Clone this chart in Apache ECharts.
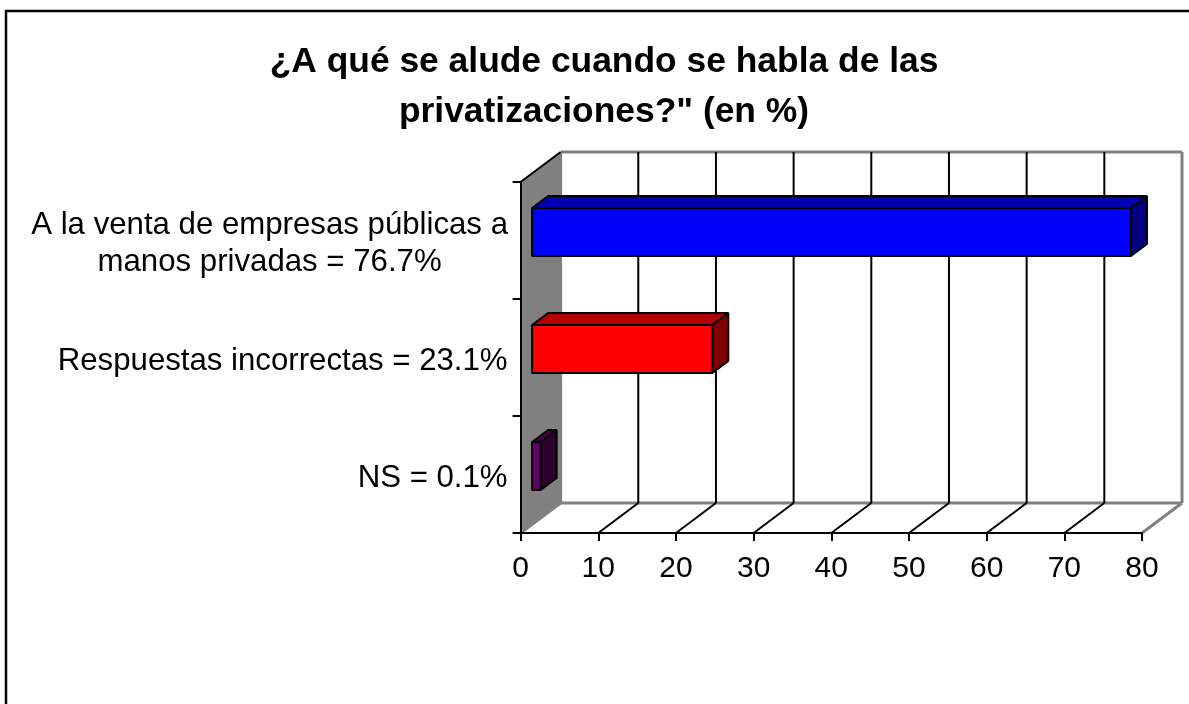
<!DOCTYPE html>
<html>
<head>
<meta charset="utf-8">
<script src="https://cdn.jsdelivr.net/npm/echarts@6/dist/echarts.min.js"></script>
<style>
html, body { margin: 0; padding: 0; background: #fff; }
#chart { width: 1189px; height: 704px; }
</style>
</head>
<body>
<div id="chart"></div>
<script>
var titleText = '¿A qué se alude cuando se habla de las\nprivatizaciones?" (en %)';
var categories = ['A la venta de empresas públicas a\nmanos privadas = 76.7%', 'Respuestas incorrectas = 23.1%', 'NS = 0.1%'];
// bar lengths as drawn in the picture, the labels round differently
var barValues = [77.1, 23.2, 1.1];
var barColors = ['#0000ff', '#ff0000', '#660066'];
var barTopColors = ['#0000b3', '#b30000', '#470047'];
var barSideColors = ['#000080', '#800000', '#2e002e'];
var xTicks = [0, 10, 20, 30, 40, 50, 60, 70, 80];

var depthX = 40, depthY = -30;       // shift of the back wall
var barDepthX = 16, barDepthY = -12; // depth of one bar
var barShiftX = 11.5, barShiftY = -8.5;  // bar sits inside the depth

var myChart = echarts.init(document.getElementById('chart'));

function poly(points, fill, stroke, lw) {
    return {
        type: 'polygon',
        shape: { points: points },
        style: { fill: fill, stroke: stroke, lineWidth: lw, lineJoin: 'bevel' }
    };
}
function line(x1, y1, x2, y2, color, lw) {
    return {
        type: 'line',
        shape: { x1: x1, y1: y1, x2: x2, y2: y2 },
        style: { stroke: color, lineWidth: lw }
    };
}
// top and bottom of the plot box, the category axis only maps whole bands
function plotEnds(api) {
    var band = api.size([0, 1])[1];
    return {
        top: api.coord([0, 0])[1] - band / 2,
        bottom: api.coord([0, categories.length - 1])[1] + band / 2
    };
}

var option = {
    animation: false,
    backgroundColor: '#ffffff',
    title: {
        text: titleText,
        left: 599,
        top: 32,
        textAlign: 'center',
        textStyle: {
            fontFamily: 'Liberation Sans',
            fontSize: 35.4,
            fontWeight: 'bold',
            lineHeight: 50,
            color: '#000000'
        }
    },
    graphic: [{
        type: 'rect',
        shape: { x: 6, y: 11, width: 1300, height: 800 },
        style: { fill: 'none', stroke: '#000000', lineWidth: 2.5 },
        silent: true
    }],
    grid: { left: 520.6, top: 182, width: 621.4, height: 351 },
    xAxis: {
        type: 'value',
        min: 0,
        max: 80,
        interval: 10,
        z: 5,
        splitLine: { show: false },
        axisLine: { show: true, lineStyle: { color: '#000000', width: 2 } },
        axisTick: { show: true, length: 8, lineStyle: { color: '#000000', width: 2 } },
        axisLabel: { margin: 21, color: '#000000', fontFamily: 'Liberation Sans', fontSize: 30 }
    },
    yAxis: {
        type: 'category',
        inverse: true,
        data: categories,
        z: 5,
        splitLine: { show: false },
        axisLine: { show: true, lineStyle: { color: '#000000', width: 2 } },
        axisTick: { show: true, length: 8, lineStyle: { color: '#000000', width: 2 } },
        axisLabel: {
            margin: 13,
            interval: 0,
            align: 'right',
            formatter: function (value) {
                // wrapped lines are centred under the longest one
                var lines = value.split('\n');
                if (lines.length === 1) return '{one|' + value + '}';
                return lines.map(function (s) { return '{wrap|' + s + '}'; }).join('\n');
            },
            rich: {
                one: {
                    color: '#000000', fontFamily: 'Liberation Sans', fontSize: 31.2,
                    lineHeight: 37, padding: [7, 0, 0, 0]
                },
                wrap: {
                    color: '#000000', fontFamily: 'Liberation Sans', fontSize: 31.2,
                    lineHeight: 37, padding: [7, 0, 0, 0], width: 476, align: 'center'
                }
            }
        }
    },
    series: [{
        // left wall and back wall frame
        type: 'custom',
        z: 1,
        clip: false,
        silent: true,
        coordinateSystem: 'cartesian2d',
        encode: { x: 0 },
        data: [[0]],
        renderItem: function (params, api) {
            var ends = plotEnds(api);
            var x0 = api.coord([0, 0])[0];
            var x1 = api.coord([80, 0])[0];
            var t = ends.top, b = ends.bottom;
            return {
                type: 'group',
                children: [
                    poly([[x0, t], [x0 + depthX, t + depthY], [x0 + depthX, b + depthY], [x0, b]], '#808080', null, 0),
                    line(x0 + depthX, t + depthY, x1 + depthX, t + depthY, '#808080', 3),
                    line(x0 + depthX, b + depthY, x1 + depthX, b + depthY, '#808080', 3),
                    line(x1 + depthX, t + depthY, x1 + depthX, b + depthY, '#808080', 3),
                    line(x0 + depthX, t + depthY, x0 + depthX, b + depthY, '#808080', 3),
                    line(x0, b, x0 + depthX, b + depthY, '#808080', 3),
                    line(x1, b, x1 + depthX, b + depthY, '#808080', 3),
                    line(x0, t, x0 + depthX, t + depthY, '#000000', 2)
                ]
            };
        }
    }, {
        // gridlines, run across the floor then up the back wall
        type: 'custom',
        z: 2,
        clip: false,
        silent: true,
        coordinateSystem: 'cartesian2d',
        encode: { x: 0 },
        data: xTicks.slice(1, -1).map(function (v) { return [v]; }),
        renderItem: function (params, api) {
            var ends = plotEnds(api);
            var x = api.coord([api.value(0), 0])[0];
            return {
                type: 'group',
                children: [
                    line(x, ends.bottom, x + depthX, ends.bottom + depthY, '#000000', 2),
                    line(x + depthX, ends.bottom + depthY, x + depthX, ends.top + depthY, '#000000', 2)
                ]
            };
        }
    }, {
        type: 'custom',
        z: 3,
        clip: false,
        silent: true,
        coordinateSystem: 'cartesian2d',
        encode: { x: 0, y: 1 },
        data: barValues.map(function (v, i) { return [v, i]; }),
        renderItem: function (params, api) {
            var i = params.dataIndex;
            var p0 = api.coord([0, i]);
            var p1 = api.coord([api.value(0), i]);
            var h = api.size([0, 1])[1] * 0.41;
            var x0 = p0[0] + barShiftX, x1 = p1[0] + barShiftX;
            var yc = p0[1] + barShiftY;
            var y0 = yc - h / 2, y1 = yc + h / 2;
            var dx = barDepthX, dy = barDepthY;
            return {
                type: 'group',
                children: [
                    poly([[x0, y0], [x0 + dx, y0 + dy], [x1 + dx, y0 + dy], [x1, y0]], barTopColors[i], '#000000', 2),
                    poly([[x1, y0], [x1 + dx, y0 + dy], [x1 + dx, y1 + dy], [x1, y1]], barSideColors[i], '#000000', 2),
                    poly([[x0, y0], [x1, y0], [x1, y1], [x0, y1]], barColors[i], '#000000', 2)
                ]
            };
        }
    }]
};

myChart.setOption(option);
</script>
</body>
</html>
